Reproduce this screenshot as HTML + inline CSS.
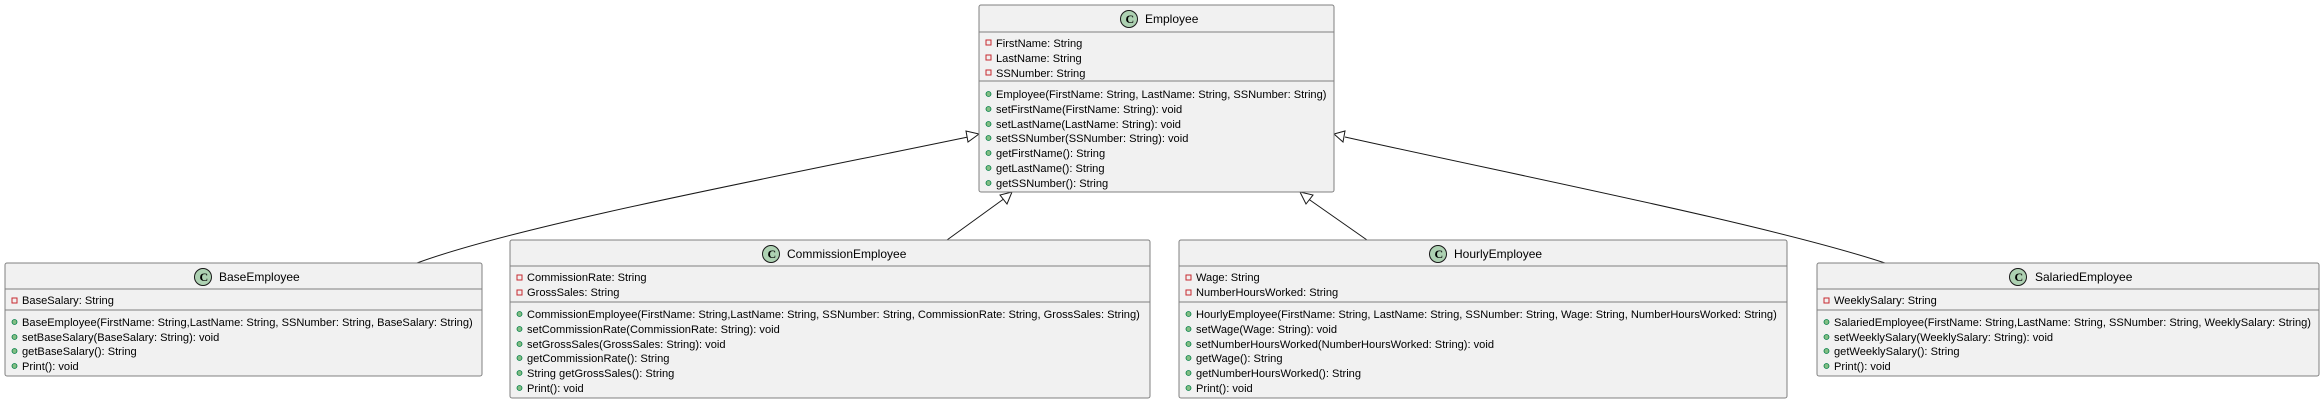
<!DOCTYPE html>
<html><head><meta charset="utf-8"><style>
html,body{margin:0;padding:0;background:#fff;}
svg{display:block;}
text{font-family:"Liberation Sans",Arial,sans-serif;fill:#000;}
.m{font-size:11.1px;}
.h{font-size:12px;}
.b{fill:#F1F1F1;stroke:#808080;stroke-width:1;}
.d{stroke:#808080;stroke-width:1;}
.pr{fill:none;stroke:#C82930;stroke-width:1;}
.pu{fill:#84BE84;stroke:#038048;stroke-width:0.8;}
.ci{fill:#ADD1B2;stroke:#181818;stroke-width:1;}
.ct{font-family:"Liberation Serif",serif;font-weight:bold;font-size:12px;}
.e{fill:none;stroke:#181818;stroke-width:1;}
.a{fill:#fff;stroke:#181818;stroke-width:1;}
</style></head><body>
<svg width="2324" height="403" viewBox="0 0 2324 403" xmlns="http://www.w3.org/2000/svg">

<!-- edges -->
<path class="e" d="M417,263 C520,225 780,176 968,137"/>
<polygon class="a" points="979,134 966,131 968,142"/>
<line class="e" x1="947" y1="240" x2="1005" y2="198"/>
<polygon class="a" points="1012,192 1000,195 1007,204"/>
<line class="e" x1="1367" y1="240" x2="1307" y2="198"/>
<polygon class="a" points="1300,192 1306,204 1313,195"/>
<path class="e" d="M1885,263 C1770,225 1520,176 1345,137"/>
<polygon class="a" points="1334,134 1345,131 1343,142"/>

<!-- Employee -->
<rect class="b" x="979" y="5" width="355" height="187" rx="2"/>
<line class="d" x1="979" y1="32" x2="1334" y2="32"/>
<line class="d" x1="979" y1="81" x2="1334" y2="81"/>
<circle class="ci" cx="1129" cy="19" r="8.5"/><text class="ct" x="1125.5" y="23">C</text>
<text class="h" x="1145" y="23">Employee</text>
<rect class="pr" x="986" y="40" width="5" height="5"/><text class="m" x="996" y="47">FirstName: String</text>
<rect class="pr" x="986" y="55" width="5" height="5"/><text class="m" x="996" y="62">LastName: String</text>
<rect class="pr" x="986" y="70" width="5" height="5"/><text class="m" x="996" y="77">SSNumber: String</text>
<circle class="pu" cx="988.5" cy="94" r="2.5"/><text class="m" x="996" y="98">Employee(FirstName: String, LastName: String, SSNumber: String)</text>
<circle class="pu" cx="988.5" cy="109" r="2.5"/><text class="m" x="996" y="113">setFirstName(FirstName: String): void</text>
<circle class="pu" cx="988.5" cy="124" r="2.5"/><text class="m" x="996" y="128">setLastName(LastName: String): void</text>
<circle class="pu" cx="988.5" cy="138" r="2.5"/><text class="m" x="996" y="142">setSSNumber(SSNumber: String): void</text>
<circle class="pu" cx="988.5" cy="153" r="2.5"/><text class="m" x="996" y="157">getFirstName(): String</text>
<circle class="pu" cx="988.5" cy="168" r="2.5"/><text class="m" x="996" y="172">getLastName(): String</text>
<circle class="pu" cx="988.5" cy="183" r="2.5"/><text class="m" x="996" y="187">getSSNumber(): String</text>

<!-- BaseEmployee -->
<rect class="b" x="5" y="263" width="477" height="113" rx="2"/>
<line class="d" x1="5" y1="289" x2="482" y2="289"/>
<line class="d" x1="5" y1="310" x2="482" y2="310"/>
<circle class="ci" cx="203" cy="277" r="8.5"/><text class="ct" x="199.5" y="281">C</text>
<text class="h" x="219" y="281">BaseEmployee</text>
<rect class="pr" x="12" y="298" width="5" height="5"/><text class="m" x="22" y="304">BaseSalary: String</text>
<circle class="pu" cx="14.5" cy="322" r="2.5"/><text class="m" x="22" y="326">BaseEmployee(FirstName: String,LastName: String, SSNumber: String, BaseSalary: String)</text>
<circle class="pu" cx="14.5" cy="337" r="2.5"/><text class="m" x="22" y="341">setBaseSalary(BaseSalary: String): void</text>
<circle class="pu" cx="14.5" cy="351" r="2.5"/><text class="m" x="22" y="355">getBaseSalary(): String</text>
<circle class="pu" cx="14.5" cy="366" r="2.5"/><text class="m" x="22" y="370">Print(): void</text>

<!-- CommissionEmployee -->
<rect class="b" x="510" y="240" width="640" height="158" rx="2"/>
<line class="d" x1="510" y1="266" x2="1150" y2="266"/>
<line class="d" x1="510" y1="302" x2="1150" y2="302"/>
<circle class="ci" cx="771" cy="254" r="8.5"/><text class="ct" x="767.5" y="258">C</text>
<text class="h" x="787" y="258">CommissionEmployee</text>
<rect class="pr" x="517" y="275" width="5" height="5"/><text class="m" x="527" y="281">CommissionRate: String</text>
<rect class="pr" x="517" y="290" width="5" height="5"/><text class="m" x="527" y="296">GrossSales: String</text>
<circle class="pu" cx="519.5" cy="314" r="2.5"/><text class="m" x="527" y="318">CommissionEmployee(FirstName: String,LastName: String, SSNumber: String, CommissionRate: String, GrossSales: String)</text>
<circle class="pu" cx="519.5" cy="329" r="2.5"/><text class="m" x="527" y="333">setCommissionRate(CommissionRate: String): void</text>
<circle class="pu" cx="519.5" cy="344" r="2.5"/><text class="m" x="527" y="348">setGrossSales(GrossSales: String): void</text>
<circle class="pu" cx="519.5" cy="358" r="2.5"/><text class="m" x="527" y="362">getCommissionRate(): String</text>
<circle class="pu" cx="519.5" cy="373" r="2.5"/><text class="m" x="527" y="377">String getGrossSales(): String</text>
<circle class="pu" cx="519.5" cy="388" r="2.5"/><text class="m" x="527" y="392">Print(): void</text>

<!-- HourlyEmployee -->
<rect class="b" x="1179" y="240" width="608" height="158" rx="2"/>
<line class="d" x1="1179" y1="266" x2="1787" y2="266"/>
<line class="d" x1="1179" y1="302" x2="1787" y2="302"/>
<circle class="ci" cx="1438" cy="254" r="8.5"/><text class="ct" x="1434.5" y="258">C</text>
<text class="h" x="1454" y="258">HourlyEmployee</text>
<rect class="pr" x="1186" y="275" width="5" height="5"/><text class="m" x="1196" y="281">Wage: String</text>
<rect class="pr" x="1186" y="290" width="5" height="5"/><text class="m" x="1196" y="296">NumberHoursWorked: String</text>
<circle class="pu" cx="1188.5" cy="314" r="2.5"/><text class="m" x="1196" y="318">HourlyEmployee(FirstName: String, LastName: String, SSNumber: String, Wage: String, NumberHoursWorked: String)</text>
<circle class="pu" cx="1188.5" cy="329" r="2.5"/><text class="m" x="1196" y="333">setWage(Wage: String): void</text>
<circle class="pu" cx="1188.5" cy="344" r="2.5"/><text class="m" x="1196" y="348">setNumberHoursWorked(NumberHoursWorked: String): void</text>
<circle class="pu" cx="1188.5" cy="358" r="2.5"/><text class="m" x="1196" y="362">getWage(): String</text>
<circle class="pu" cx="1188.5" cy="373" r="2.5"/><text class="m" x="1196" y="377">getNumberHoursWorked(): String</text>
<circle class="pu" cx="1188.5" cy="388" r="2.5"/><text class="m" x="1196" y="392">Print(): void</text>

<!-- SalariedEmployee -->
<rect class="b" x="1817" y="263" width="502" height="113" rx="2"/>
<line class="d" x1="1817" y1="289" x2="2319" y2="289"/>
<line class="d" x1="1817" y1="310" x2="2319" y2="310"/>
<circle class="ci" cx="2018" cy="277" r="8.5"/><text class="ct" x="2014.5" y="281">C</text>
<text class="h" x="2035" y="281">SalariedEmployee</text>
<rect class="pr" x="1824" y="298" width="5" height="5"/><text class="m" x="1834" y="304">WeeklySalary: String</text>
<circle class="pu" cx="1826.5" cy="322" r="2.5"/><text class="m" x="1834" y="326">SalariedEmployee(FirstName: String,LastName: String, SSNumber: String, WeeklySalary: String)</text>
<circle class="pu" cx="1826.5" cy="337" r="2.5"/><text class="m" x="1834" y="341">setWeeklySalary(WeeklySalary: String): void</text>
<circle class="pu" cx="1826.5" cy="351" r="2.5"/><text class="m" x="1834" y="355">getWeeklySalary(): String</text>
<circle class="pu" cx="1826.5" cy="366" r="2.5"/><text class="m" x="1834" y="370">Print(): void</text>
</svg>
</body></html>
